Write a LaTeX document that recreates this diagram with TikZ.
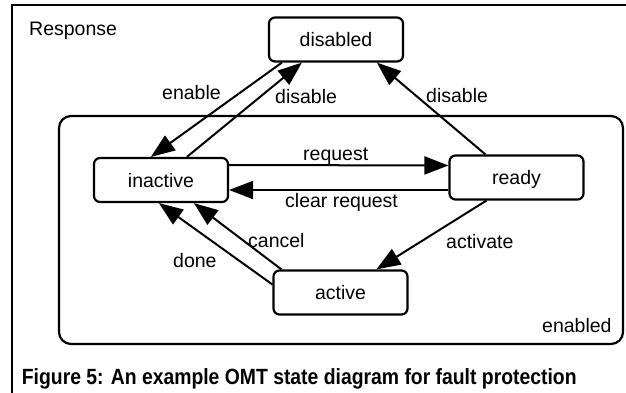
\documentclass[tikz,border=0pt]{standalone}
\usepackage{graphicx}
\usepackage{fontspec}
\setmainfont{Liberation Sans}
\usetikzlibrary{arrows.meta}
\begin{document}
\begin{tikzpicture}[x=1pt,y=-1pt,
  state/.style={draw,line width=2.2pt,rounded corners=6pt,minimum width=134pt,minimum height=44pt,inner sep=0pt,text height=14pt,text depth=0pt,font=\fontsize{19.5}{22}\selectfont},
  lbl/.style={inner sep=0pt,anchor=base west,font=\fontsize{19.5}{22}\selectfont},
  tr/.style={line width=2pt,-{Triangle[length=24pt,width=18pt]}}]
\useasboundingbox (0,0) rectangle (626,393);
\fill[white] (0,0) rectangle (626,393);
\draw[line width=2pt] (12,393) -- (12,5) -- (626,5);
\node[draw,line width=2.2pt,rounded corners=12pt,minimum width=564pt,minimum height=228pt,inner sep=0pt] (enabledbox) at (341,230) {};
\node[state] (disabled) at (336,39.5) {disabled};
\node[state] (inactive) at (161,180) {inactive};
\node[state] (ready) at (516.5,177.5) {ready};
\node[state] (active) at (340.5,292.5) {active};
\draw[tr] ([xshift=14pt]disabled.south west) -- ([xshift=58pt]inactive.north west);
\draw[tr] ([xshift=94pt]inactive.north west) -- ([xshift=34pt]disabled.south west);
\draw[tr] ([xshift=37pt]ready.north west) -- ([xshift=109pt]disabled.south west);
\draw[tr] ([yshift=15pt]inactive.east) -- ([yshift=12pt]ready.west);
\draw[tr] ([yshift=-12.5pt]ready.west) -- ([yshift=-10pt]inactive.east);
\draw[tr] ([xshift=38pt]ready.south west) -- ([xshift=104pt]active.north west);
\draw[tr] ([xshift=9pt]active.north west) -- ([xshift=101pt]inactive.south west);
\draw[tr] ([yshift=8pt]active.west) -- ([xshift=66pt]inactive.south west);
\node[lbl] (lresp) at (29,36) {Response};
\node[lbl] (lenable) at (162,100) {enable};
\node[lbl] (ldisl) at (275,104) {disable};
\node[lbl] (ldisr) at (426,102.5) {disable};
\node[lbl] (lreq) at (303,160) {request};
\node[lbl] (lclear) at (285,207) {clear request};
\node[lbl] (lact) at (446,248) {activate};
\node[lbl] (lcancel) at (248,247) {cancel};
\node[lbl] (ldone) at (173,267) {done};
\node[lbl] (lenabled) at (542,332) {enabled};
\node[inner sep=0pt,anchor=base west,font=\bfseries\fontsize{22}{26}\selectfont] (cap) at (21.7,384.3) {\scalebox{0.88}[1]{Figure 5: An example OMT state diagram for fault protection}};
\end{tikzpicture}
\end{document}
